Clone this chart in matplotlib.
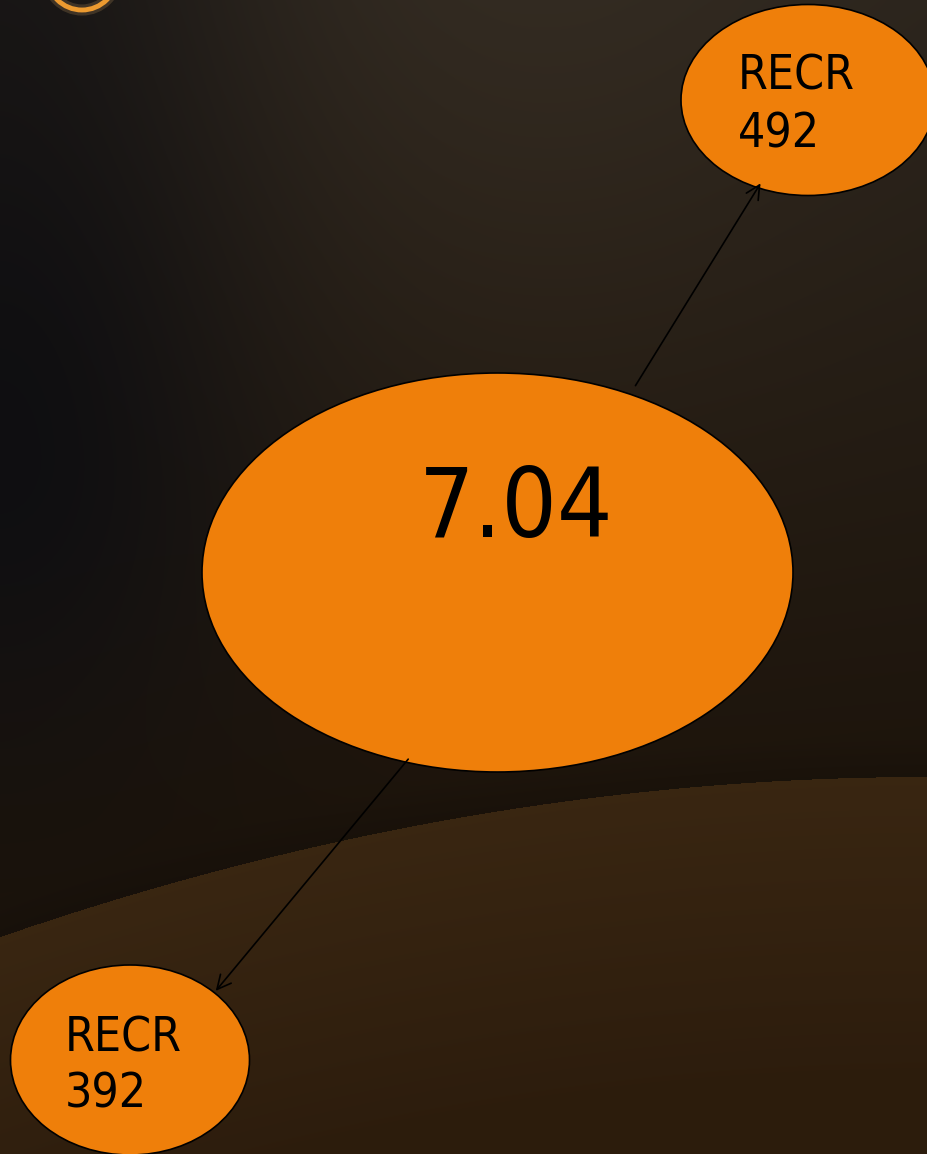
import numpy as np
import matplotlib.pyplot as plt
from matplotlib.patches import Ellipse, Circle, FancyArrowPatch

# node data
node_names = ['', 'RECR', 'RECR']
node_values = ['7.04', '492', '392']

# layout (pixel space, y down)
node_xy = [(497.5, 572.5), (808, 100), (130, 1060)]
node_wh = [(591, 399), (254, 191), (239, 190)]
edges = [((634, 388), (762, 181)), ((410, 757), (214, 993))]

W, H = 928, 1154
orange = '#ef7f0a'

fig = plt.figure(figsize=(W / 100, H / 100), dpi=100)
ax = fig.add_axes([0, 0, 1, 1])
ax.set_xlim(0, W)
ax.set_ylim(H, 0)
ax.axis('off')

# background
xx, yy = np.meshgrid(np.arange(W) + 0.5, np.arange(H) + 0.5)
c_top = np.array([0.19, 0.16, 0.125])
c_low = np.array([0.13, 0.09, 0.05])
c_left = np.array([0.055, 0.055, 0.068])
t = np.clip(yy / 820, 0, 1)[..., None]
bg = c_top * (1 - t) + c_low * t
spot = np.exp(-(((xx - 520) / 380) ** 2 + (yy / 520) ** 2))[..., None]
bg = bg * (0.85 + 0.2 * spot)
wy = np.where(yy < 450, 0.6 + 0.35 * np.exp(-((yy - 450) / 300) ** 2),
              0.95 * np.exp(-((yy - 450) / 330) ** 2))
wl = (np.exp(-(xx / 250) ** 2) * wy)[..., None]
bg = bg * (1 - wl) + c_left * wl

curve = 777 + 1.86e-4 * (928 - xx) ** 2
shadow = np.clip(1 - (curve - yy) / 40, 0, 1) * (yy < curve)
bg = bg * (1 - 0.12 * shadow[..., None])
below = (yy >= curve)[..., None]
tb = np.clip((yy - curve) / 300, 0, 1)[..., None]
c_b1 = np.array([0.225, 0.15, 0.07])
c_b2 = np.array([0.175, 0.112, 0.05])
bg = np.where(below, c_b1 * (1 - tb) + c_b2 * tb, bg)
ax.imshow(np.clip(bg, 0, 1), extent=[0, W, H, 0], zorder=0, interpolation='bilinear')

# golden ring at top-left
ax.add_patch(Circle((82, -25), 35, fill=False, ec='#d8a868', lw=8, alpha=0.2, zorder=1))
ax.add_patch(Circle((82, -25), 35, fill=False, ec='#ec9a30', lw=3.5, zorder=1))

for (x0, y0), (x1, y1) in edges:
    ax.add_patch(FancyArrowPatch((x0, y0), (x1, y1), arrowstyle='->,head_length=10,head_width=5',
                                 color='black', lw=1.2, mutation_scale=1, zorder=3))

for i, (name, val) in enumerate(zip(node_names, node_values)):
    cx, cy = node_xy[i]
    w, h = node_wh[i]
    ax.add_patch(Ellipse((cx, cy), w, h, fc=orange, ec='black', lw=1.2, zorder=2))

ax.text(516, 537, node_values[0], ha='center', va='baseline', fontsize=70,
        family='DejaVu Sans', stretch='condensed', zorder=4)
label_pos = {1: (738, 90, 148), 2: (65, 1051, 1108)}
for i, (lx, by1, by2) in label_pos.items():
    ax.text(lx, by1, node_names[i], ha='left', va='baseline', fontsize=34.5,
            family='DejaVu Sans', stretch='condensed', zorder=4)
    ax.text(lx, by2, node_values[i], ha='left', va='baseline', fontsize=34.5,
            family='DejaVu Sans', stretch='condensed', zorder=4)

fig.savefig('out.png', dpi=100)
